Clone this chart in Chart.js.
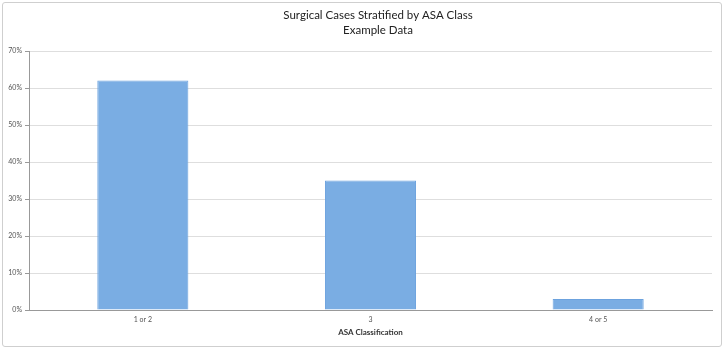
<!DOCTYPE html>
<html>
<head>
<meta charset="utf-8">
<script src="https://cdn.jsdelivr.net/npm/chart.js@4"></script>
<style>
    body { margin: 0; background: #fff; }
    #frame {
        position: absolute;
        left: 2px;
        top: 2px;
        width: 718px;
        height: 343px;
        border: 1px solid #cfcfcf;
        border-radius: 3px;
    }
</style>
</head>
<body>
<div id="frame"><canvas id="asaChart"></canvas></div>
<script>
const categories = ['1 or 2', '3', '4 or 5'];
const caseShare = [62, 35, 3];
const yTicks = [0, 10, 20, 30, 40, 50, 60, 70];
const headingLines = ['Surgical Cases Stratified by ASA Class', 'Example Data'];

// two-line heading, sitting a little right of the canvas centre
const headingPlugin = {
    id: 'heading',
    afterDraw(chart) {
        const c = chart.ctx;
        c.save();
        c.fillStyle = '#222';
        c.font = '11.5px Lato';
        c.textAlign = 'center';
        c.textBaseline = 'middle';
        const x = chart.width / 2 + 16;
        headingLines.forEach((line, i) => c.fillText(line, x, 12 + i * 15));
        c.restore();
    }
};

const ctx = document.getElementById('asaChart').getContext('2d');
new Chart(ctx, {
    type: 'bar',
    data: {
        labels: categories,
        datasets: [{
            data: caseShare,
            backgroundColor: 'rgb(122, 173, 227)',
            borderColor: 'rgb(108, 162, 222)',
            borderWidth: 1,
            categoryPercentage: 1,
            barPercentage: 0.4
        }]
    },
    options: {
        responsive: true,
        maintainAspectRatio: false,
        animation: false,
        layout: {
            padding: { left: 0, right: 9, top: 48, bottom: 0 }
        },
        plugins: {
            legend: { display: false },
            tooltip: { enabled: false },
            title: { display: false }
        },
        scales: {
            y: {
                min: yTicks[0],
                max: yTicks[yTicks.length - 1],
                afterBuildTicks: scale => {
                    scale.ticks = yTicks.map(v => ({ value: v }));
                },
                afterFit: scale => {
                    scale.width = 26;
                },
                ticks: {
                    callback: value => value + '%',
                    color: '#555',
                    font: { family: 'Lato', size: 7 },
                    padding: 3
                },
                grid: {
                    color: '#dedede',
                    tickColor: '#999',
                    tickLength: 4
                },
                border: { color: '#999' }
            },
            x: {
                afterFit: scale => {
                    scale.height = 36;
                },
                ticks: {
                    color: '#555',
                    font: { family: 'Lato', size: 7 },
                    padding: 2
                },
                grid: { display: false, tickLength: 4 },
                border: { color: '#999' },
                title: {
                    display: true,
                    text: 'ASA Classification',
                    color: '#333',
                    font: { family: 'Lato', size: 8, weight: 'bold' },
                    padding: { top: 0, bottom: 9 }
                }
            }
        }
    },
    plugins: [headingPlugin]
});
</script>
</body>
</html>
